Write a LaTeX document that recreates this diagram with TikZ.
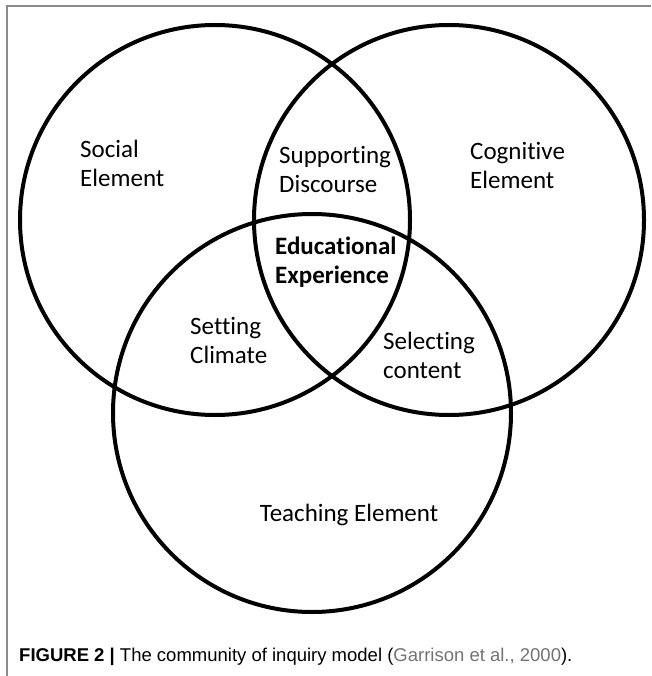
\documentclass[tikz,border=0pt]{standalone}
\usepackage{fontspec}
\setmainfont[Ligatures={NoCommon}]{Carlito}
\newfontfamily\capfont{Liberation Sans}
\usetikzlibrary{
    positioning     % posizionamento dei nodi
}
\definecolor{framegray}{gray}{0.55}
\definecolor{citegray}{gray}{0.45}

\tikzset{
    ring/.style={line width=4pt},
    venntext/.style={align=left, anchor=west, inner sep=0pt,
        font=\fontsize{25}{29}\selectfont},
}

\begin{document}
\begin{tikzpicture}[x=1pt, y=-1pt]

        % area della figura
        \useasboundingbox (0,0) rectangle (651,676);
        \draw[framegray, line width=1.2pt] (7,676) -- (7,6) -- (651,6);

        % i tre cerchi
        \draw[ring] (215,220) circle (195);
        \draw[ring] (449,220) circle (195);
        \draw[ring] (312,413) circle (199);

        % testi nei cerchi
        \node[venntext] (social) at (80,163) {Social\\Element};
        \node[venntext] (cognitive) at (470,165) {Cognitive\\Element};
        \node[venntext, anchor=center] (teaching) at (349,515) {Teaching Element};

        % testi nelle intersezioni
        \node[venntext] (discourse) at (279,169) {Supporting\\Discourse};
        \node[venntext] (climate) at (190,340) {Setting\\Climate};
        \node[venntext] (content) at (383,355) {Selecting\\content};
        \node[venntext, font=\fontsize{25}{29}\selectfont\bfseries] (experience) at (275,262) {Educational\\Experience};

        % didascalia
        \node[anchor=west, inner sep=0pt, font=\capfont\fontsize{18.5}{22}\selectfont] (caption) at (19,657)
            {\textbf{FIGURE 2 |} The community of inquiry model ({\color{citegray}Garrison et al., 2000}).};

    \end{tikzpicture}
\end{document}
